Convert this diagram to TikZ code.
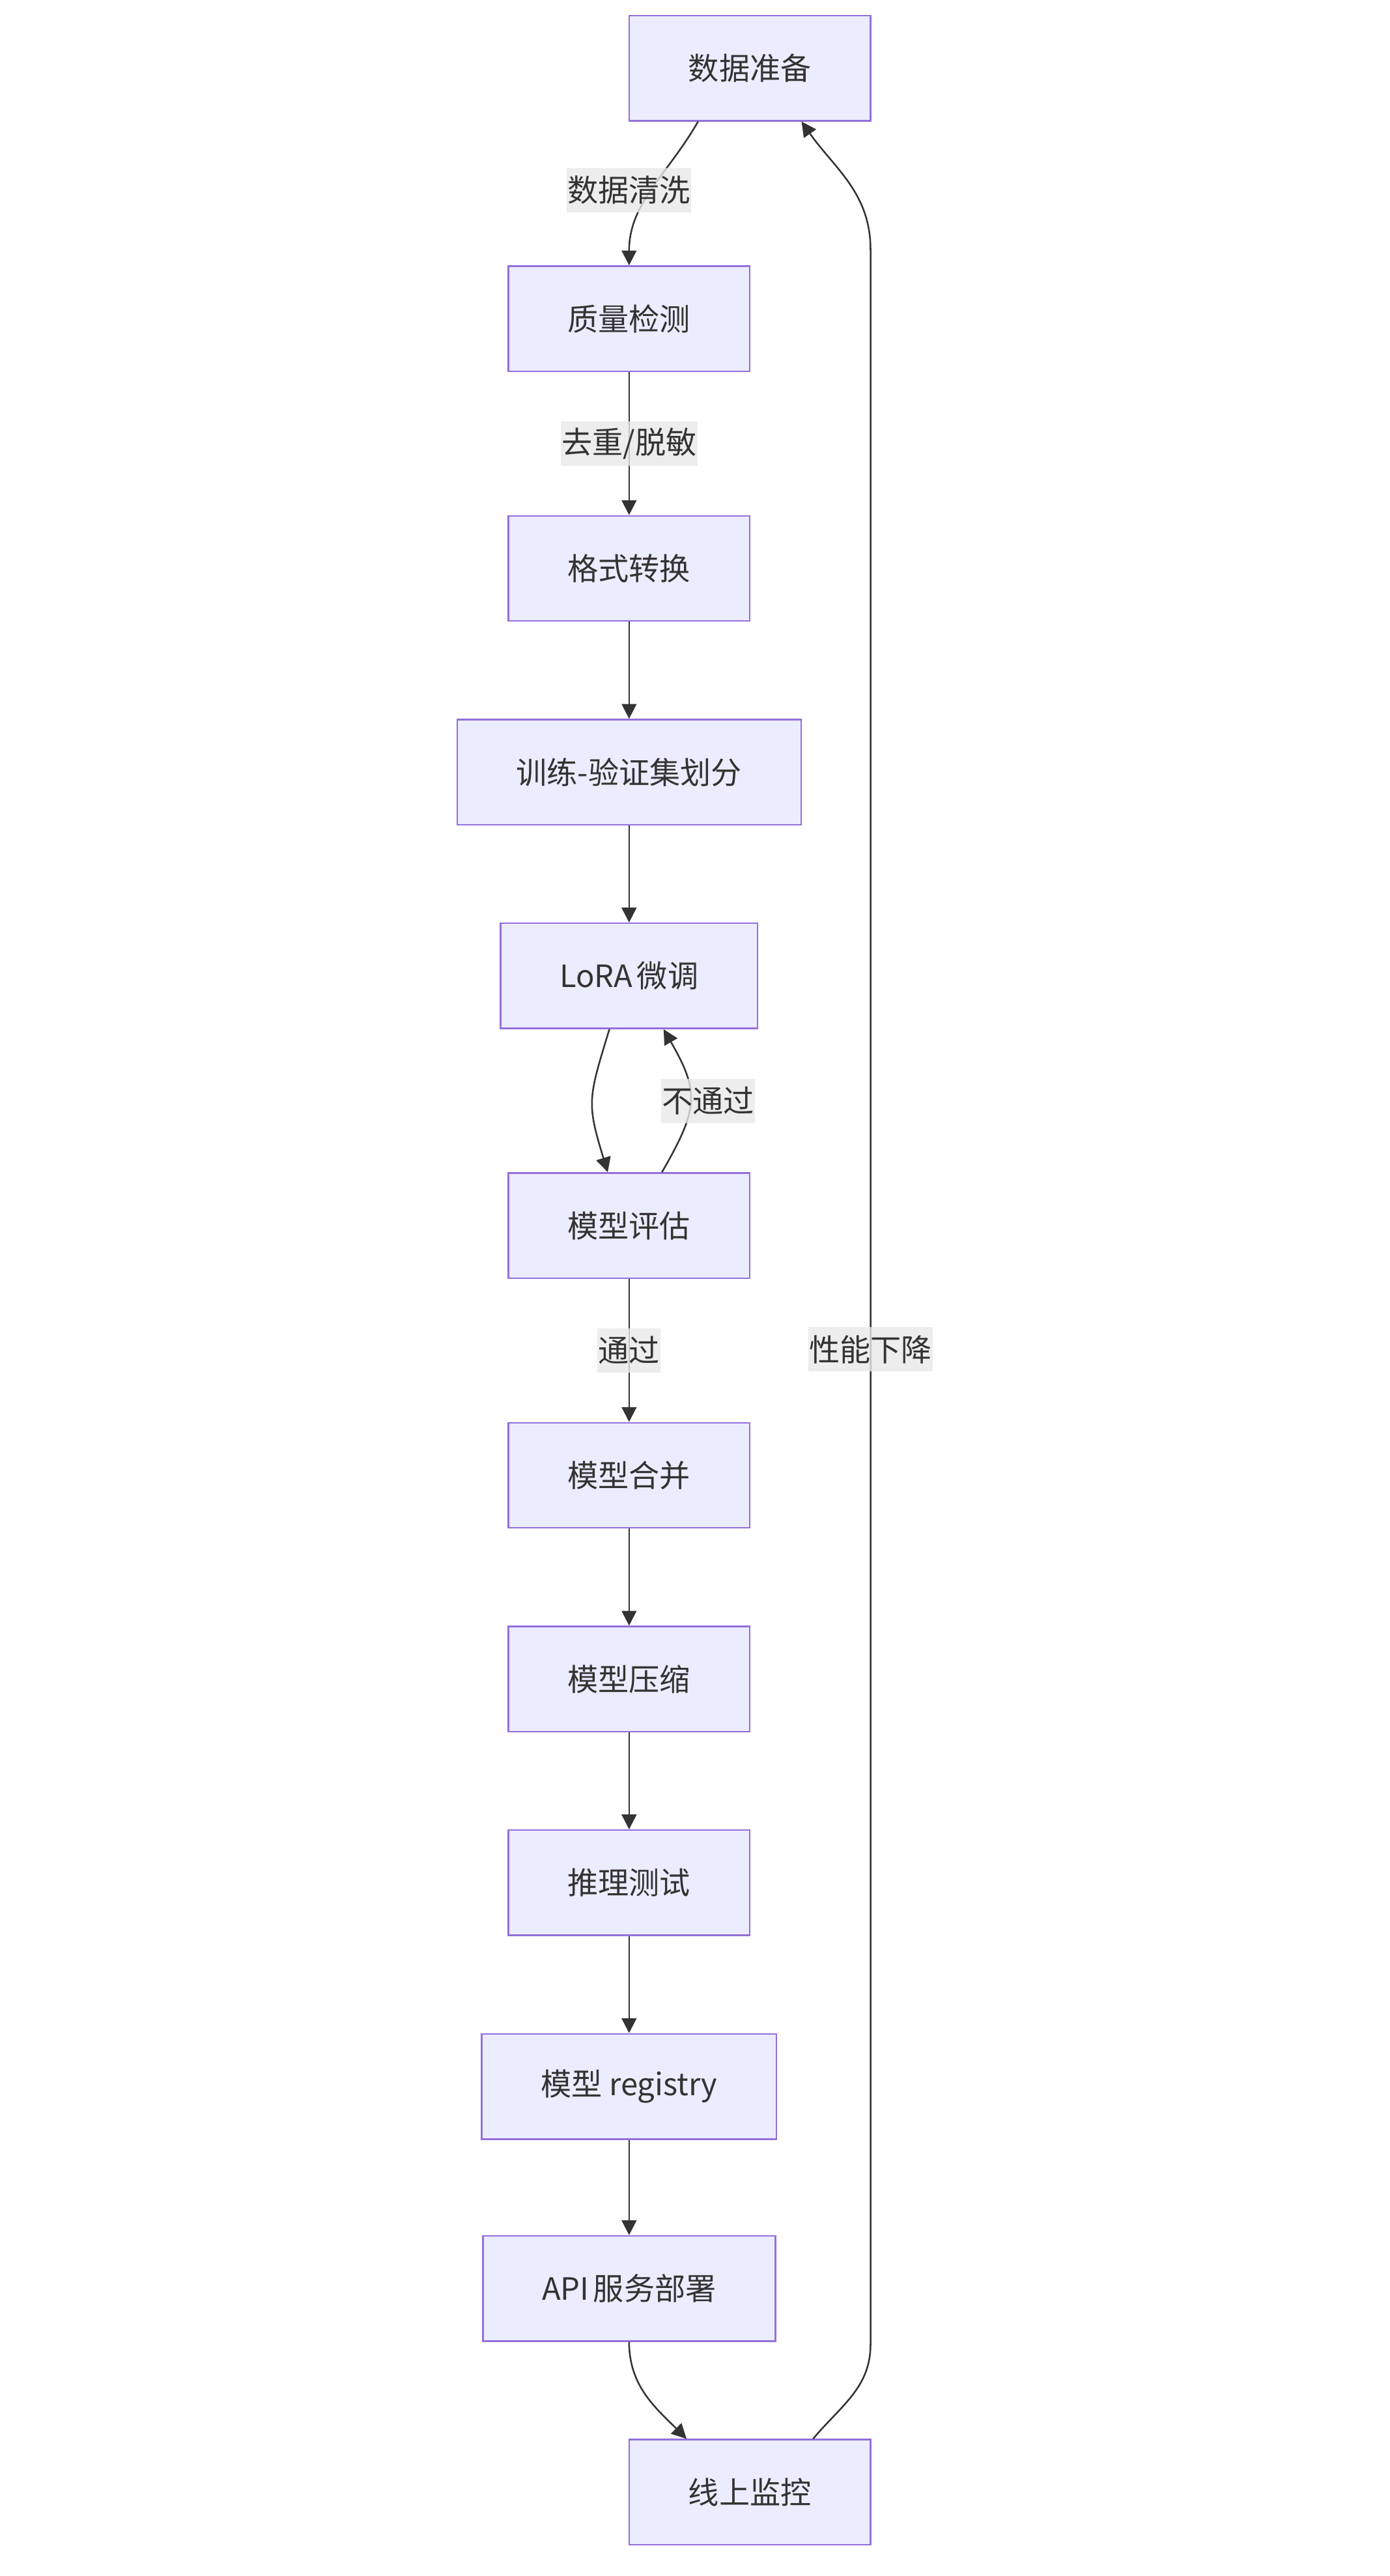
\documentclass[tikz,border=0pt]{standalone}
\usepackage{fontspec}
\setmainfont{Noto Sans CJK SC}
\usetikzlibrary{arrows.meta}
\definecolor{boxfill}{HTML}{ECECFF}
\definecolor{boxline}{HTML}{9370DB}
\definecolor{ink}{HTML}{333333}
\definecolor{lblfill}{HTML}{E8E8E8}
\begin{document}
\begin{tikzpicture}[x=1pt, y=1pt,
    box/.style={draw=boxline, fill=boxfill, line width=1pt, text=ink,
      inner xsep=36pt, inner ysep=0pt, minimum height=64pt,
      font=\fontsize{18.7}{22}\selectfont},
    lbl/.style={fill=lblfill, fill opacity=0.8, text opacity=1, text=ink,
      inner xsep=0.5pt, inner ysep=0pt, minimum height=27pt,
      font=\fontsize{18.7}{22}\selectfont}]
  \useasboundingbox (0,0) rectangle (846,-1568);
  \draw
    (456.5,-41.5) node[box] (0){数据准备}
    (383,-194) node[box] (1){质量检测}
    (383,-346) node[box] (2){格式转换}
    (383,-470) node[box] (3){训练-验证集划分}
    (383,-594) node[box] (4){LoRA\hspace{0.14em}微调}
    (383,-746) node[box] (5){模型评估}
    (383,-898) node[box] (6){模型合并}
    (383,-1022) node[box] (7){模型压缩}
    (383,-1146) node[box] (8){推理测试}
    (383,-1270) node[box] (9){模型 registry}
    (383,-1393) node[box] (10){API\hspace{0.14em}服务部署}
    (456.5,-1517) node[box] (11){线上监控};
  \coordinate (r1) at (530,-1427);
  \coordinate (r2) at (530,-152);
  \begin{scope}[-{Triangle[length=9pt,width=9pt]}, color=ink, line width=1pt]
    \draw ([xshift=-31.5pt]0.south) to[out=-120,in=90] node[lbl,xshift=-14pt]{数据清洗} (1.north);
    \draw (1) to node[lbl]{去重/脱敏} (2);
    \draw (2) to (3);
    \draw (3) to (4);
    \draw ([xshift=-12pt]4.south) to[out=-107,in=107,looseness=1.3] ([xshift=-13pt]5.north);
    \draw ([xshift=20pt]5.north) to[out=60,in=-60,looseness=1.3] node[lbl,xshift=11pt]{不通过} ([xshift=21pt]4.south);
    \draw (5) to node[lbl]{通过} (6);
    \draw (6) to (7);
    \draw (7) to (8);
    \draw (8) to (9);
    \draw (9) to (10);
    \draw (10.south) to[out=-90,in=135] ([xshift=-38.5pt]11.north);
    \draw ([xshift=38.5pt]11.north) to[out=50,in=-90] (r1) -- node[lbl,pos=0.475]{性能下降} (r2) to[out=90,in=-55] ([xshift=31.5pt]0.south);
  \end{scope}
\end{tikzpicture}
\end{document}
